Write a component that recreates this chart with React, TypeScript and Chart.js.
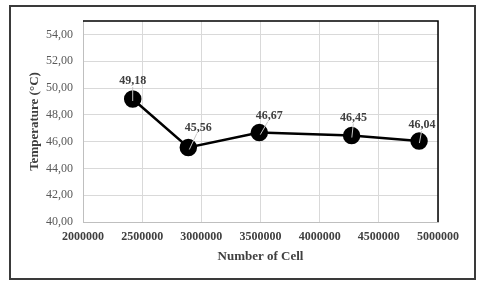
import React, { useEffect, useRef } from "react";
import { Chart, registerables } from "chart.js";

Chart.register(...registerables);

const cellCounts = [2420000, 2890000, 3490000, 4270000, 4840000];
const temperatures = [49.18, 45.56, 46.67, 46.45, 46.04];
const xTitle = "Number of Cell";
const yTitle = "Temperature (°C)";

// label placement relative to point (px)
const labelOffsets = [
  [0, -18],
  [10, -20],
  [10, -17],
  [2, -18],
  [3, -16],
];

const fmt = (v: number) => v.toFixed(2).replace(".", ",");

const decorPlugin = {
  id: "decor",
  beforeDraw(chart: any) {
    const ctx = chart.ctx;
    ctx.save();
    ctx.fillStyle = "#ffffff";
    ctx.fillRect(0, 0, chart.width, chart.height);
    ctx.restore();
  },
  afterDraw(chart: any) {
    const ctx = chart.ctx;
    const { left, right, top, bottom } = chart.chartArea;
    ctx.save();
    // outer frame
    ctx.strokeStyle = "#3a3a3a";
    ctx.lineWidth = 2;
    ctx.strokeRect(10, 6, 465, 273);
    // top and right plot border
    ctx.strokeStyle = "#000000";
    ctx.lineWidth = 1.5;
    ctx.beginPath();
    ctx.moveTo(left, top);
    ctx.lineTo(right, top);
    ctx.lineTo(right, bottom);
    ctx.stroke();
    // data labels
    const meta = chart.getDatasetMeta(0);
    ctx.font = "bold 12px 'Liberation Serif'";
    ctx.textAlign = "center";
    ctx.textBaseline = "middle";
    meta.data.forEach((pt: any, i: number) => {
      const [dx, dy] = labelOffsets[i];
      const lx = pt.x + dx;
      const ly = pt.y + dy;
      ctx.strokeStyle = "#c8c8c8";
      ctx.lineWidth = 1;
      ctx.beginPath();
      ctx.moveTo(pt.x + dx * 0.1, pt.y + 2);
      ctx.lineTo(lx - dx * 0.15, ly + 6);
      ctx.stroke();
      ctx.fillStyle = "#404040";
      ctx.fillText(fmt(temperatures[i]), lx, ly);
    });
    ctx.restore();
  },
};

export default function App() {
  const ref = useRef<HTMLCanvasElement>(null);
  useEffect(() => {
    if (!ref.current) return;
    const chart = new Chart(ref.current, {
      type: "line",
      data: {
        datasets: [
          {
            data: cellCounts.map((x, i) => ({ x, y: temperatures[i] })),
            borderColor: "#000000",
            backgroundColor: "#000000",
            borderWidth: 2.5,
            pointRadius: 7.5,
            pointBackgroundColor: "#000000",
            pointBorderColor: "#000000",
            tension: 0,
          },
        ],
      },
      options: {
        animation: false,
        responsive: false,
        maintainAspectRatio: false,
        layout: { padding: { left: 10, right: 42, top: 21, bottom: 10 } },
        plugins: {
          legend: { display: false },
          tooltip: { enabled: false },
        },
        scales: {
          x: {
            type: "linear",
            min: 2000000,
            max: 5000000,
            afterFit(scale: any) {
              scale.height = 54;
            },
            ticks: {
              stepSize: 500000,
              callback: (v: any) => String(v),
              color: "#404040",
              font: { family: "'Liberation Serif'", size: 12, weight: "bold" },
              maxRotation: 0,
              padding: 8,
            },
            grid: { color: "#d9d9d9", drawTicks: false },
            border: { color: "#bfbfbf" },
            title: {
              display: true,
              text: xTitle,
              color: "#404040",
              font: { family: "'Liberation Serif'", size: 13, weight: "bold" },
              padding: { top: 0, bottom: 12 },
            },
          },
          y: {
            min: 40,
            max: 55,
            afterFit(scale: any) {
              scale.width = 73;
            },
            afterBuildTicks(scale: any) {
              scale.ticks = [40, 42, 44, 46, 48, 50, 52, 54].map((v) => ({ value: v }));
            },
            ticks: {
              callback: (v: any) => fmt(Number(v)),
              color: "#595959",
              font: { family: "'Liberation Serif'", size: 12 },
              padding: 10,
            },
            grid: { color: "#d9d9d9", drawTicks: false },
            border: { color: "#bfbfbf" },
            title: {
              display: true,
              text: yTitle,
              color: "#404040",
              font: { family: "'Liberation Serif'", size: 13, weight: "bold" },
              padding: { top: 17, bottom: 0 },
            },
          },
        },
      },
      plugins: [decorPlugin],
    });
    return () => chart.destroy();
  }, []);
  return (
    <div style={{ position: "fixed", left: 0, top: 0, width: 480, height: 286 }}>
      <canvas ref={ref} width={480} height={286} style={{ width: 480, height: 286, display: "block" }} />
    </div>
  );
}
